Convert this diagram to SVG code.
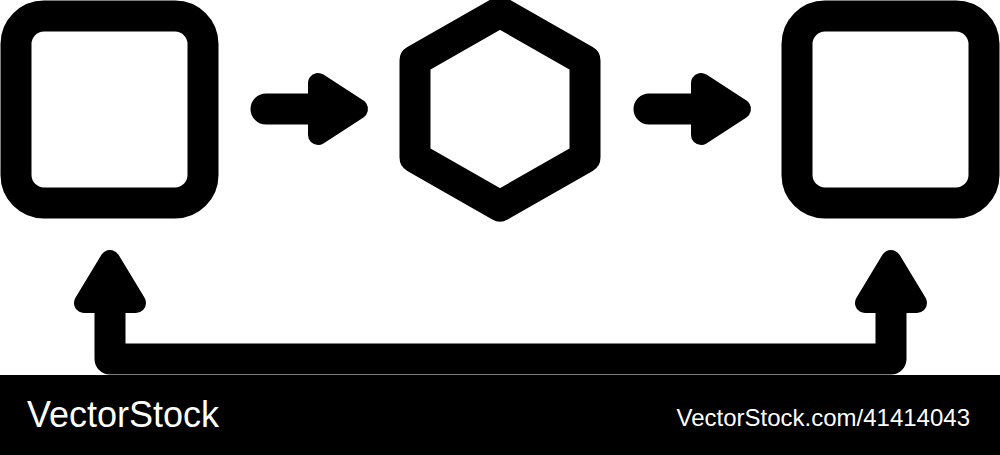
<svg xmlns="http://www.w3.org/2000/svg" width="1000" height="455" viewBox="0 0 1000 455">
  <style>
    .shape { fill: none; stroke: #000; stroke-width: 31; stroke-linejoin: round; stroke-linecap: round; }
    .head { fill: #000; stroke: #000; stroke-width: 20; stroke-linejoin: round; }
    .wm { fill: #fff; font-family: "Liberation Sans", Arial, sans-serif; }
  </style>
  <rect width="1000" height="455" fill="#fff"/>
  <g id="node-left">
    <rect class="shape" x="16" y="16" width="187" height="187" rx="28" ry="28"/>
  </g>
  <g id="node-hexagon">
    <polygon class="shape" points="500,12 585,60.5 585,157.5 500,206 415,157.5 415,60.5"/>
  </g>
  <g id="node-right">
    <rect class="shape" x="797" y="16" width="187" height="187" rx="28" ry="28"/>
  </g>
  <g id="connectors">
    <line class="shape" x1="266" y1="109" x2="322" y2="109"/>
    <polygon class="head" points="318,83 318,135 358,109"/>
    <line class="shape" x1="649" y1="109" x2="705" y2="109"/>
    <polygon class="head" points="701,83 701,135 741,109"/>
    <path class="shape" d="M110,300 V359 H891 V300"/>
    <polygon class="head" points="110,260 84,303 136,303"/>
    <polygon class="head" points="891,260 865,303 917,303"/>
  </g>
  <g id="watermark">
    <rect x="0" y="375" width="1000" height="80" fill="#000"/>
    <text class="wm" x="27" y="427" font-size="36">VectorStock</text>
    <text class="wm" x="970" y="426" font-size="24" text-anchor="end">VectorStock.com/41414043</text>
  </g>
</svg>
